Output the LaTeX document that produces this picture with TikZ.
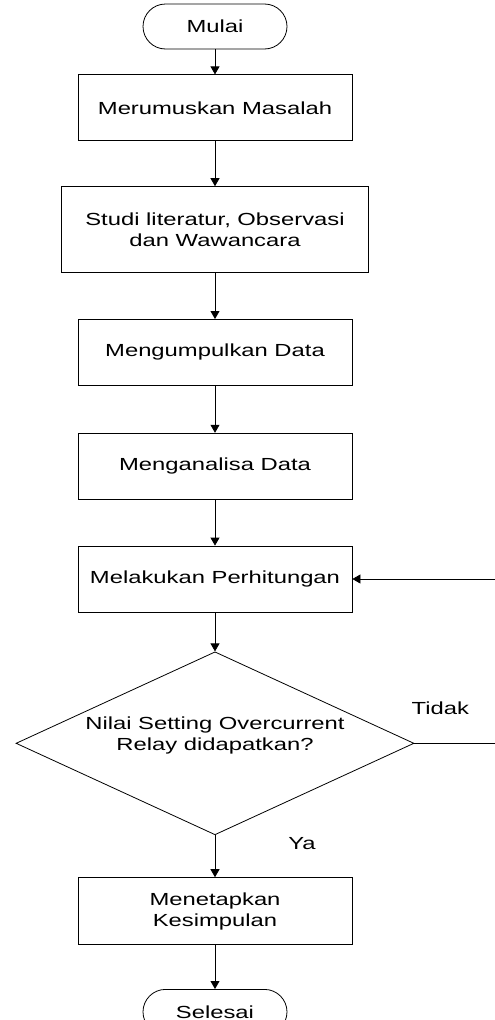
\documentclass[tikz,border=0pt]{standalone}
\usepackage{fontspec}
\setmainfont{Liberation Sans}[FakeStretch=1.36]
\usepackage{tikz}
\usetikzlibrary{arrows.meta,positioning,shapes.geometric}
\tikzset{
	box/.style={draw, line width=0.8pt, align=center, inner sep=4pt,
		minimum width=274pt, minimum height=66pt},
	terminal/.style={draw, line width=0.8pt, rounded corners=22.5pt, align=center,
		minimum width=144pt, minimum height=45pt},
	decision/.style={draw, diamond, line width=0.8pt, align=center, aspect=2.17,
		inner sep=0pt, minimum width=398pt, minimum height=183pt},
	arrow/.style={-{Triangle[width=9pt,length=8pt]}, line width=0.8pt},
	line/.style={line width=0.8pt},
	caption/.style={font=\fontsize{17.5}{21}\selectfont}
}

\begin{document}
\begin{tikzpicture}[
		node distance=46pt,
		every node/.append style={font=\fontsize{17.5}{21}\selectfont},
		]
		
		%% ── Canvas ──────────────────────────────────────────────────────
		\useasboundingbox (0pt,0pt) rectangle (495pt,-1020pt);
		\clip (0pt,0pt) rectangle (495pt,-1020pt);
		
		%% ── Main flow ───────────────────────────────────────────────────
		\node[terminal] (mulai) at (215pt,-26.5pt) {Mulai};
		
		\node[box, below=25pt of mulai] (rumus) {Merumuskan Masalah};
		
		\node[box, minimum width=307pt, minimum height=86pt, below=45pt of rumus] (studi)
		{Studi literatur, Observasi\\dan Wawancara};
		
		\node[box, below=of studi] (kumpul) {Mengumpulkan Data};
		
		\node[box, below=47pt of kumpul] (analisa) {Menganalisa Data};
		
		\node[box, below=of analisa] (hitung) {Melakukan Perhitungan};
		
		%% ── Decision ────────────────────────────────────────────────────
		\node[decision, text depth=20pt, below=39pt of hitung] (cek)
		{Nilai Setting Overcurrent\\Relay didapatkan?};
		
		\node[box, minimum height=67pt, below=42pt of cek] (simpul)
		{Menetapkan\\Kesimpulan};
		
		\node[terminal, below=44pt of simpul] (selesai) {Selesai};
		
		%% ── Vertical flow arrows ────────────────────────────────────────
		\draw[arrow] (mulai) -- (rumus);
		\draw[arrow] (rumus) -- (studi);
		\draw[arrow] (studi) -- (kumpul);
		\draw[arrow] (kumpul) -- (analisa);
		\draw[arrow] (analisa) -- (hitung);
		\draw[arrow] (hitung) -- (cek);
		\draw[arrow] (cek) -- (simpul);
		\draw[arrow] (simpul) -- (selesai);
		
		%% ── Loop back (Tidak) ───────────────────────────────────────────
		\coordinate (loopbot) at ([xshift=84pt] cek.east);
		\coordinate (looptop) at (loopbot |- hitung.east);
		\draw[arrow] (cek.east) -- (loopbot) -- (looptop) -- (hitung.east);
		
		%% ── Branch labels ───────────────────────────────────────────────
		\node[caption] (tidak) at ([xshift=26pt, yshift=35pt] cek.east) {Tidak};
		\node[caption] (ya) at ([xshift=87pt, yshift=-8pt] cek.south) {Ya};
	\end{tikzpicture}
\end{document}
